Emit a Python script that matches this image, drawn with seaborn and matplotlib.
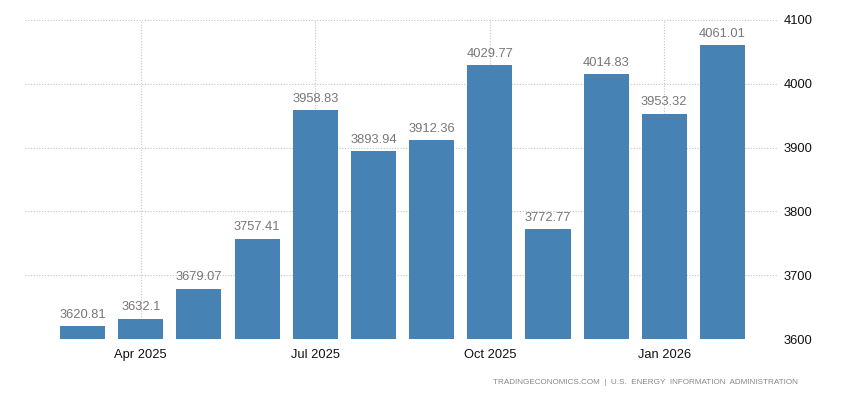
import pandas as pd
import numpy as np
import matplotlib.pyplot as plt
import seaborn as sns

months = ['Mar 2025', 'Apr 2025', 'May 2025', 'Jun 2025', 'Jul 2025', 'Aug 2025',
          'Sep 2025', 'Oct 2025', 'Nov 2025', 'Dec 2025', 'Jan 2026', 'Feb 2026']
values = [3620.81, 3632.1, 3679.07, 3757.41, 3958.83, 3893.94,
          3912.36, 4029.77, 3772.77, 4014.83, 3953.32, 4061.01]
value_labels = ['3620.81', '3632.1', '3679.07', '3757.41', '3958.83', '3893.94',
                '3912.36', '4029.77', '3772.77', '4014.83', '3953.32', '4061.01']
shown_ticks = ['Apr 2025', 'Jul 2025', 'Oct 2025', 'Jan 2026']
y_ticks = [3600, 3700, 3800, 3900, 4000, 4100]

df = pd.DataFrame({'month': months, 'value': values})

sns.set_style('white')
plt.rcParams['font.family'] = ['Liberation Sans', 'DejaVu Sans']

fig = plt.figure(figsize=(8.5, 4), dpi=100)
ax = fig.add_axes([0.0294, 0.1525, 0.8856, 0.7975])

sns.barplot(data=df, x='month', y='value', color='#4682b4', width=0.775,
            saturation=1, linewidth=0, ax=ax, zorder=3)

ax.set_ylim(3600, 4100)
ax.set_xlim(-0.99, 11.95)

# подписи значений над столбцами
for i, (v, lab) in enumerate(zip(values, value_labels)):
    ax.text(i, v + 8, lab, ha='center', va='bottom', fontsize=9.3, color='#777777')

tick_pos = [months.index(m) for m in shown_ticks]
ax.set_xticks(tick_pos)
ax.set_xticklabels(shown_ticks, fontsize=9.3, color='#111111')
ax.set_yticks(y_ticks)
ax.set_yticklabels([str(t) for t in y_ticks], fontsize=9.3, color='#111111')
ax.yaxis.tick_right()
ax.tick_params(axis='y', length=0, pad=4)
ax.tick_params(axis='x', length=5, width=0.8, color='#bbbbbb', pad=2)

ax.set_xlabel('')
ax.set_ylabel('')
ax.grid(axis='both', linestyle=(0, (1, 1.5)), color='#c4c4c4', linewidth=0.8, zorder=0)
for s in ax.spines.values():
    s.set_visible(False)

fig.text(0.939, 0.045, 'TRADINGECONOMICS.COM  |  U.S.  ENERGY  INFORMATION  ADMINISTRATION',
         ha='right', va='center', fontsize=5.9, color='#888888')

fig.savefig('out.png', dpi=100)
